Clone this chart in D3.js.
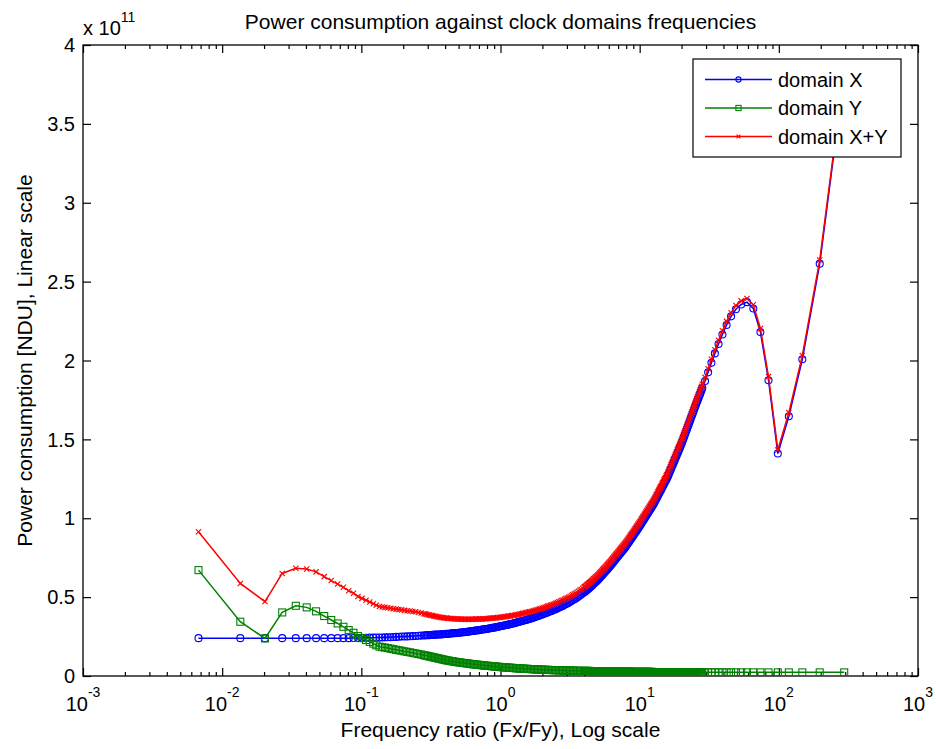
<!DOCTYPE html>
<html>
<head>
<meta charset="utf-8">
<script src="https://cdn.jsdelivr.net/npm/d3@7"></script>
<style>
  html, body { margin: 0; padding: 0; background: #ffffff; }
  svg text { font-family: "Liberation Sans", Arial, Helvetica, sans-serif; fill: #000; }
</style>
</head>
<body>
<svg id="chart" width="936" height="749"></svg>
<script>
// Frequency ratios Fx/Fy (x axis, log scale)
const ratios = [
  0.00676,0.0135,0.0203,0.0270,0.0338,0.0405,0.0473,0.0541,0.0608,0.0676,
  0.0743,0.0811,0.0878,0.0946,0.101,0.108,0.115,0.122,0.128,0.135,
  0.1413,0.1479,0.1549,0.1622,0.1698,0.1778,0.1862,0.1950,0.2042,0.2138,
  0.2239,0.2344,0.2455,0.2570,0.2692,
  0.2818,0.2884,0.2951,0.3020,0.3090,0.3162,0.3236,0.3311,0.3388,0.3467,
  0.3548,0.3631,0.3715,0.3802,0.3890,0.3981,0.4074,0.4169,0.4266,0.4365,
  0.4467,0.4571,0.4677,0.4786,0.4898,0.5012,0.5129,0.5248,0.5370,0.5495,
  0.5623,0.5754,0.5888,0.6026,0.6166,0.6310,0.6457,0.6607,0.6761,0.6918,
  0.7079,0.7244,0.7413,0.7586,0.7762,0.7943,0.8128,0.8318,0.8511,0.8710,
  0.8913,0.9120,0.9333,0.9550,0.9772,1.000,1.023,1.047,1.072,1.096,
  1.122,1.148,1.175,1.202,1.230,1.259,1.288,1.318,1.349,1.380,
  1.413,1.445,1.479,1.514,1.549,1.585,1.622,1.660,1.698,1.738,
  1.778,1.820,1.862,1.905,1.950,1.995,2.042,2.089,2.138,2.188,
  2.239,2.291,2.344,2.399,2.455,2.512,2.570,2.630,2.692,2.754,
  2.818,2.884,2.951,3.020,3.090,3.162,3.236,3.311,3.388,3.467,
  3.548,3.631,3.715,3.802,3.890,
  3.981,4.027,4.074,4.121,4.169,4.217,4.266,4.315,4.365,4.416,
  4.467,4.519,4.571,4.624,4.677,4.731,4.786,4.841,4.898,4.955,
  5.012,5.070,5.129,5.188,5.248,5.309,5.370,5.432,5.495,5.559,
  5.623,5.688,5.754,5.821,5.888,5.956,6.026,6.096,6.166,6.237,
  6.310,6.383,6.457,6.532,6.607,6.683,6.761,6.839,6.918,6.998,
  7.079,7.161,7.244,7.328,7.413,7.499,7.586,7.674,7.762,7.852,
  7.943,8.035,8.128,8.222,8.318,8.414,8.511,8.610,8.710,8.811,
  8.913,9.016,9.120,9.226,9.333,9.441,9.550,9.661,9.772,9.885,
  10.00,10.12,10.23,10.35,10.47,10.59,10.72,10.84,10.96,11.09,
  11.22,11.35,11.48,11.61,11.75,11.89,12.02,12.16,12.30,12.45,
  12.59,12.74,12.88,13.03,13.18,13.34,13.49,13.65,13.80,13.96,
  14.13,14.29,14.45,14.62,14.79,14.96,15.14,15.31,15.49,15.67,
  15.85,16.03,16.22,16.41,16.60,16.79,16.98,17.18,17.38,17.58,
  17.78,17.99,18.20,18.41,18.62,18.84,19.05,19.28,19.50,19.72,
  19.95,20.18,20.42,20.65,20.89,21.13,21.38,21.63,21.88,22.13,
  22.39,22.65,22.91,23.17,23.44,23.71,23.99,24.27,24.55,24.83,
  25.12,25.41,25.70,26.00,26.30,26.61,26.92,27.23,27.54,27.86,
  28.18,
  29.5,31.05,32.78,34.71,36.88,39.33,42.14,45.38,49.17,53.64,
  59.0,65.56,73.75,84.29,98.33,118.0,147.5,196.7,295.0
];

// Power consumption of domain X (units of 1e11)
const domainX = [
  0.240,0.240,0.240,0.240,0.240,0.240,0.240,0.240,0.240,0.240,
  0.240,0.240,0.241,0.241,0.242,0.242,0.243,0.243,0.244,0.244,
  0.244,0.245,0.246,0.246,0.247,0.248,0.249,0.250,0.250,0.251,
  0.252,0.253,0.254,0.255,0.256,
  0.257,0.258,0.258,0.259,0.259,0.260,0.261,0.261,0.262,0.262,
  0.263,0.263,0.264,0.264,0.265,0.266,0.267,0.267,0.268,0.269,
  0.270,0.271,0.272,0.272,0.273,0.274,0.275,0.276,0.277,0.278,
  0.279,0.280,0.281,0.283,0.284,0.285,0.286,0.288,0.289,0.290,
  0.291,0.293,0.294,0.296,0.297,0.298,0.300,0.302,0.303,0.305,
  0.306,0.308,0.310,0.312,0.313,0.315,0.317,0.319,0.321,0.323,
  0.325,0.327,0.329,0.331,0.333,0.335,0.337,0.340,0.342,0.345,
  0.347,0.350,0.352,0.355,0.357,0.360,0.363,0.365,0.368,0.371,
  0.374,0.377,0.380,0.383,0.387,0.390,0.393,0.397,0.400,0.404,
  0.407,0.411,0.414,0.418,0.421,0.425,0.429,0.434,0.438,0.442,
  0.446,0.451,0.456,0.460,0.465,0.470,0.476,0.481,0.487,0.492,
  0.498,0.504,0.511,0.517,0.524,
  0.530,0.534,0.537,0.541,0.545,0.549,0.552,0.556,0.560,0.564,
  0.568,0.572,0.576,0.581,0.585,0.589,0.593,0.597,0.601,0.606,
  0.610,0.615,0.620,0.625,0.629,0.634,0.639,0.644,0.649,0.654,
  0.659,0.664,0.669,0.674,0.679,0.684,0.689,0.694,0.699,0.705,
  0.710,0.716,0.721,0.727,0.732,0.738,0.743,0.749,0.754,0.760,
  0.765,0.771,0.776,0.782,0.787,0.793,0.798,0.804,0.809,0.815,
  0.820,0.827,0.833,0.840,0.846,0.853,0.859,0.866,0.872,0.879,
  0.885,0.892,0.898,0.905,0.911,0.918,0.924,0.931,0.937,0.944,
  0.950,0.957,0.964,0.971,0.978,0.985,0.992,0.999,1.006,1.013,
  1.020,1.027,1.034,1.041,1.048,1.055,1.062,1.069,1.076,1.083,
  1.090,1.098,1.107,1.115,1.124,1.132,1.141,1.149,1.158,1.166,
  1.175,1.183,1.192,1.200,1.209,1.217,1.226,1.234,1.243,1.251,
  1.260,1.270,1.281,1.291,1.302,1.312,1.323,1.333,1.344,1.354,
  1.365,1.375,1.386,1.396,1.407,1.417,1.428,1.438,1.449,1.459,
  1.470,1.482,1.494,1.506,1.518,1.530,1.542,1.554,1.566,1.578,
  1.590,1.602,1.614,1.626,1.638,1.650,1.662,1.674,1.686,1.698,
  1.710,1.721,1.733,1.744,1.756,1.767,1.779,1.790,1.802,1.813,
  1.825,
  1.870,1.925,1.985,2.045,2.105,2.165,2.225,2.280,2.325,2.355,
  2.370,2.330,2.180,1.875,1.410,1.647,2.008,2.614,3.820
];

// Power consumption of domain Y (units of 1e11)
const domainY = [
  0.671,0.344,0.238,0.403,0.445,0.435,0.410,0.380,0.355,0.333,
  0.312,0.291,0.274,0.253,0.240,0.228,0.216,0.205,0.195,0.186,
  0.183,0.180,0.177,0.173,0.170,0.166,0.163,0.160,0.156,0.153,
  0.150,0.146,0.143,0.139,0.136,
  0.132,0.130,0.128,0.126,0.124,0.122,0.120,0.118,0.116,0.114,
  0.112,0.110,0.108,0.106,0.104,0.102,0.100,0.098,0.097,0.095,
  0.094,0.092,0.091,0.089,0.088,0.087,0.086,0.084,0.083,0.082,
  0.081,0.080,0.079,0.077,0.076,0.075,0.074,0.073,0.072,0.071,
  0.070,0.069,0.068,0.067,0.066,0.065,0.064,0.064,0.063,0.062,
  0.061,0.060,0.059,0.059,0.058,0.057,0.056,0.056,0.055,0.054,
  0.053,0.053,0.052,0.052,0.051,0.050,0.049,0.049,0.048,0.048,
  0.047,0.047,0.046,0.046,0.045,0.045,0.044,0.044,0.043,0.043,
  0.042,0.042,0.041,0.041,0.040,0.040,0.040,0.039,0.039,0.039,
  0.038,0.038,0.038,0.037,0.037,0.037,0.037,0.036,0.036,0.036,
  0.035,0.035,0.035,0.035,0.034,0.034,0.034,0.034,0.033,0.033,
  0.033,0.033,0.033,0.032,0.032,
  0.032,0.032,0.032,0.032,0.032,0.032,0.032,0.032,0.032,0.031,
  0.031,0.031,0.031,0.031,0.031,0.031,0.031,0.031,0.031,0.030,
  0.030,0.030,0.030,0.030,0.030,0.030,0.030,0.030,0.030,0.029,
  0.029,0.029,0.029,0.029,0.029,0.029,0.029,0.029,0.029,0.028,
  0.028,0.028,0.028,0.028,0.028,0.028,0.028,0.028,0.028,0.027,
  0.027,0.027,0.027,0.027,0.027,0.027,0.027,0.027,0.027,0.027,
  0.027,0.027,0.027,0.027,0.027,0.027,0.027,0.027,0.027,0.026,
  0.026,0.026,0.026,0.026,0.026,0.026,0.026,0.026,0.026,0.026,
  0.026,0.026,0.026,0.026,0.026,0.026,0.026,0.026,0.026,0.026,
  0.026,0.026,0.026,0.026,0.026,0.026,0.026,0.026,0.026,0.025,
  0.025,0.025,0.025,0.025,0.025,0.025,0.025,0.025,0.025,0.025,
  0.025,0.025,0.025,0.025,0.025,0.025,0.025,0.025,0.025,0.025,
  0.025,0.025,0.025,0.025,0.025,0.025,0.025,0.025,0.025,0.025,
  0.025,0.025,0.025,0.025,0.025,0.025,0.025,0.025,0.025,0.024,
  0.024,0.024,0.024,0.024,0.024,0.024,0.024,0.024,0.024,0.024,
  0.024,0.024,0.024,0.024,0.024,0.024,0.024,0.024,0.024,0.024,
  0.024,0.024,0.024,0.024,0.024,0.024,0.024,0.024,0.024,0.024,
  0.024,
  0.023,0.023,0.023,0.023,0.023,0.023,0.023,0.023,0.023,0.023,
  0.023,0.023,0.023,0.023,0.023,0.023,0.023,0.023,0.023
];

// Total power consumption of domains X+Y (units of 1e11)
const domainXY = [
  0.915,0.587,0.472,0.650,0.683,0.678,0.660,0.630,0.605,0.583,
  0.562,0.541,0.525,0.504,0.492,0.480,0.469,0.458,0.449,0.440,
  0.437,0.435,0.433,0.429,0.427,0.424,0.422,0.420,0.416,0.414,
  0.412,0.409,0.407,0.403,0.400,
  0.395,0.393,0.391,0.388,0.386,0.384,0.383,0.381,0.379,0.377,
  0.375,0.373,0.372,0.370,0.369,0.368,0.367,0.366,0.365,0.364,
  0.364,0.363,0.363,0.362,0.361,0.361,0.361,0.360,0.360,0.360,
  0.360,0.360,0.360,0.360,0.360,0.360,0.360,0.361,0.361,0.361,
  0.361,0.362,0.362,0.363,0.363,0.363,0.364,0.366,0.366,0.367,
  0.367,0.368,0.369,0.371,0.371,0.372,0.373,0.375,0.376,0.377,
  0.378,0.380,0.381,0.383,0.384,0.385,0.386,0.389,0.390,0.393,
  0.394,0.397,0.398,0.401,0.402,0.405,0.407,0.409,0.411,0.414,
  0.416,0.419,0.421,0.424,0.427,0.430,0.433,0.436,0.439,0.443,
  0.445,0.449,0.452,0.455,0.458,0.462,0.466,0.470,0.474,0.478,
  0.481,0.486,0.491,0.495,0.499,0.504,0.510,0.515,0.520,0.525,
  0.531,0.537,0.544,0.549,0.556,
  0.562,0.566,0.569,0.573,0.577,0.581,0.584,0.588,0.592,0.595,
  0.599,0.603,0.607,0.612,0.616,0.620,0.624,0.628,0.632,0.636,
  0.640,0.645,0.650,0.655,0.659,0.664,0.669,0.674,0.679,0.683,
  0.688,0.693,0.698,0.703,0.708,0.713,0.718,0.723,0.728,0.733,
  0.738,0.744,0.749,0.755,0.760,0.766,0.771,0.777,0.782,0.787,
  0.792,0.798,0.803,0.809,0.814,0.820,0.825,0.831,0.836,0.842,
  0.847,0.854,0.860,0.867,0.873,0.880,0.886,0.893,0.899,0.905,
  0.911,0.918,0.924,0.931,0.937,0.944,0.950,0.957,0.963,0.970,
  0.976,0.983,0.990,0.997,1.004,1.011,1.018,1.025,1.032,1.039,
  1.046,1.053,1.060,1.067,1.074,1.081,1.088,1.095,1.102,1.108,
  1.115,1.123,1.132,1.140,1.149,1.157,1.166,1.174,1.183,1.191,
  1.200,1.208,1.217,1.225,1.234,1.242,1.251,1.259,1.268,1.276,
  1.285,1.295,1.306,1.316,1.327,1.337,1.348,1.358,1.369,1.379,
  1.390,1.400,1.411,1.421,1.432,1.442,1.453,1.463,1.474,1.483,
  1.494,1.506,1.518,1.530,1.542,1.554,1.566,1.578,1.590,1.602,
  1.614,1.626,1.638,1.650,1.662,1.674,1.686,1.698,1.710,1.722,
  1.734,1.745,1.757,1.768,1.780,1.791,1.803,1.814,1.826,1.837,
  1.849,
  1.893,1.948,2.008,2.068,2.128,2.188,2.248,2.303,2.348,2.378,
  2.393,2.353,2.203,1.898,1.433,1.670,2.031,2.637,3.840
];

const seriesNames = ["domain X", "domain Y", "domain X+Y"];
const xTickExponents = [-3, -2, -1, 0, 1, 2, 3];
const yTicks = [0, 0.5, 1, 1.5, 2, 2.5, 3, 3.5, 4];
const yTickLabels = ["0", "0.5", "1", "1.5", "2", "2.5", "3", "3.5", "4"];
const titleText = "Power consumption against clock domains frequencies";
const xLabelText = "Frequency ratio (Fx/Fy), Log scale";
const yLabelText = "Power consumption [NDU], Linear scale";

// Plot frame
const L = 83, R = 918, T = 45, B = 676;
const FONT = 20;       // tick labels and legend
const LABEL_FONT = 21; // title and axis labels

const svg = d3.select("#chart");
svg.append("rect").attr("width", 936).attr("height", 749).attr("fill", "#fff");

const x = d3.scaleLog().domain([1e-3, 1e3]).range([L, R]);
const y = d3.scaleLinear().domain([0, 4]).range([B, T]);

svg.append("defs").append("clipPath").attr("id", "plotClip")
  .append("rect").attr("x", L).attr("y", T).attr("width", R - L).attr("height", B - T);

// Axes ticks (inward, on all four sides)
const majorX = xTickExponents.map(e => Math.pow(10, e));
const minorX = [];
xTickExponents.slice(0, -1).forEach(e => {
  for (let m = 2; m <= 9; m++) minorX.push(m * Math.pow(10, e));
});

function styleAxis(g) {
  g.select(".domain").remove();
  g.selectAll(".tick line").attr("stroke", "#000").attr("stroke-width", 1.2);
  g.selectAll(".tick text").remove();
}

svg.append("g").attr("transform", `translate(0,${B})`)
  .call(d3.axisBottom(x).tickValues(majorX).tickSizeInner(-8).tickSizeOuter(0).tickFormat(() => "")).call(styleAxis);
svg.append("g").attr("transform", `translate(0,${B})`)
  .call(d3.axisBottom(x).tickValues(minorX).tickSizeInner(-4).tickSizeOuter(0).tickFormat(() => "")).call(styleAxis);
svg.append("g").attr("transform", `translate(0,${T})`)
  .call(d3.axisTop(x).tickValues(majorX).tickSizeInner(-8).tickSizeOuter(0).tickFormat(() => "")).call(styleAxis);
svg.append("g").attr("transform", `translate(0,${T})`)
  .call(d3.axisTop(x).tickValues(minorX).tickSizeInner(-4).tickSizeOuter(0).tickFormat(() => "")).call(styleAxis);
svg.append("g").attr("transform", `translate(${L},0)`)
  .call(d3.axisLeft(y).tickValues(yTicks).tickSizeInner(-8).tickSizeOuter(0).tickFormat(() => "")).call(styleAxis);
svg.append("g").attr("transform", `translate(${R},0)`)
  .call(d3.axisRight(y).tickValues(yTicks).tickSizeInner(-8).tickSizeOuter(0).tickFormat(() => "")).call(styleAxis);

// Box
svg.append("rect").attr("x", L).attr("y", T).attr("width", R - L).attr("height", B - T)
  .attr("fill", "none").attr("stroke", "#000").attr("stroke-width", 1.3);

// X tick labels: 10 with superscript exponent
xTickExponents.forEach(e => {
  const t = svg.append("text").attr("x", x(Math.pow(10, e))).attr("y", 711)
    .attr("text-anchor", "middle").style("font-size", FONT + "px");
  t.append("tspan").text("10");
  t.append("tspan").attr("dy", -14).style("font-size", "14px").text(String(e));
});

// Y tick labels
yTicks.forEach((v, i) => {
  svg.append("text").attr("x", 75).attr("y", y(v)).attr("dy", "0.36em")
    .attr("text-anchor", "end").style("font-size", FONT + "px").text(yTickLabels[i]);
});

// Exponent multiplier
const mult = svg.append("text").attr("x", 83).attr("y", 35).style("font-size", FONT + "px");
mult.append("tspan").text("x 10");
mult.append("tspan").attr("dy", -13).style("font-size", "14px").text("11");

// Title and axis labels
svg.append("text").attr("x", (L + R) / 2).attr("y", 29).attr("text-anchor", "middle")
  .style("font-size", LABEL_FONT + "px").text(titleText);
svg.append("text").attr("x", (L + R) / 2).attr("y", 737).attr("text-anchor", "middle")
  .style("font-size", LABEL_FONT + "px").text(xLabelText);
svg.append("text").attr("transform", `translate(32,${(T + B) / 2}) rotate(-90)`)
  .attr("text-anchor", "middle").style("font-size", LABEL_FONT + "px").text(yLabelText);

// Series
const series = [
  { name: seriesNames[0], values: domainX, color: "#0000ff", marker: "circle" },
  { name: seriesNames[1], values: domainY, color: "#008000", marker: "square" },
  { name: seriesNames[2], values: domainXY, color: "#ff0000", marker: "cross" }
];

function drawMarker(g, type, color, cx, cy, s) {
  if (type === "circle") {
    g.append("circle").attr("cx", cx).attr("cy", cy).attr("r", s)
      .attr("fill", "none").attr("stroke", color).attr("stroke-width", 1.1);
  } else if (type === "square") {
    g.append("rect").attr("x", cx - s).attr("y", cy - s).attr("width", 2 * s).attr("height", 2 * s)
      .attr("fill", "none").attr("stroke", color).attr("stroke-width", 1.1);
  } else {
    const h = s * 0.75;
    g.append("path").attr("d", `M${cx - h},${cy - h}L${cx + h},${cy + h}M${cx - h},${cy + h}L${cx + h},${cy - h}`)
      .attr("stroke", color).attr("stroke-width", 1.1).attr("fill", "none");
  }
}

const plot = svg.append("g").attr("clip-path", "url(#plotClip)");
const line = d3.line().x(d => x(d[0])).y(d => y(d[1]));

series.forEach(s => {
  const pts = ratios.map((r, i) => [r, s.values[i]]).filter(p => p[1] !== undefined);
  const g = plot.append("g");
  g.append("path").datum(pts).attr("d", line).attr("fill", "none")
    .attr("stroke", s.color).attr("stroke-width", 1.5);
  pts.forEach(p => drawMarker(g, s.marker, s.color, x(p[0]), y(p[1]), 3.5));
});

// Legend
const lg = svg.append("g");
lg.append("rect").attr("x", 693).attr("y", 59).attr("width", 208).attr("height", 98)
  .attr("fill", "#fff").attr("stroke", "#000").attr("stroke-width", 1.2);
const rowY = [79.5, 108, 136.5];
series.forEach((s, i) => {
  lg.append("line").attr("x1", 705).attr("x2", 772).attr("y1", rowY[i]).attr("y2", rowY[i])
    .attr("stroke", s.color).attr("stroke-width", 1.5);
  drawMarker(lg, s.marker, s.color, 738.5, rowY[i], 2.6);
  lg.append("text").attr("x", 778).attr("y", rowY[i]).attr("dy", "0.36em")
    .style("font-size", FONT + "px").text(s.name);
});
</script>
</body>
</html>
